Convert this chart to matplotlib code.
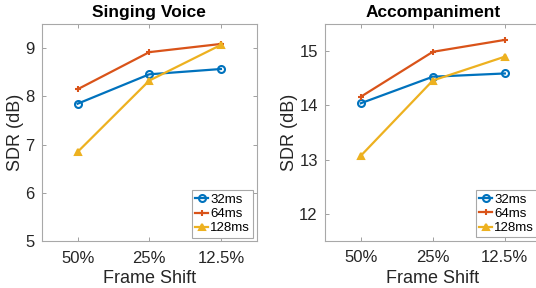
import numpy as np
import matplotlib.pyplot as plt

plt.rcParams['font.family'] = ['Liberation Sans', 'DejaVu Sans']

shifts = ['50%', '25%', '12.5%']
labels = ['32ms', '64ms', '128ms']
colors = ['#0072BD', '#D95319', '#EDB120']
markers = ['o', '+', '^']

voice_32 = [7.85, 8.46, 8.57]
voice_64 = [8.15, 8.92, 9.09]
voice_128 = [6.85, 8.33, 9.07]

acc_32 = [14.04, 14.53, 14.59]
acc_64 = [14.16, 14.99, 15.21]
acc_128 = [13.07, 14.46, 14.90]

fig = plt.figure(figsize=(5.36, 2.88), dpi=100)
ax1 = fig.add_axes([0.078, 0.163, 0.401, 0.753])
ax2 = fig.add_axes([0.606, 0.164, 0.403, 0.752])

x = np.arange(1, 4)


def draw(ax, series, title, ylim, yticks):
    for vals, lab, c, m in zip(series, labels, colors, markers):
        face = 'none' if m == 'o' else c
        ax.plot(x, vals, color=c, marker=m, markersize=5, markeredgewidth=1.5,
                markerfacecolor=face, linewidth=1.6, label=lab)
    ax.set_xlim(0.5, 3.5)
    ax.set_ylim(*ylim)
    ax.set_xticks(x)
    ax.set_xticklabels(shifts)
    ax.set_yticks(yticks)
    ax.tick_params(direction='in', top=True, right=True, labelsize=12,
                   labelcolor='#262626', color='#a0a0a0', length=3, width=0.7)
    ax.tick_params(axis='x', pad=7)
    ax.tick_params(axis='y', pad=5)
    for s in ax.spines.values():
        s.set_color('#a8a8a8')
        s.set_linewidth(0.8)
    ax.set_title(title, fontsize=12.5, fontweight='bold', pad=5)
    ax.set_xlabel('Frame Shift', fontsize=13, color='#262626', labelpad=3)
    ax.set_ylabel('SDR (dB)', fontsize=13, color='#262626', labelpad=1)
    leg = ax.legend(loc='lower right', fontsize=9.5, handlelength=1.0,
                    handletextpad=0.15, labelspacing=0.15, borderpad=0.25,
                    fancybox=False, framealpha=1, borderaxespad=0.25)
    leg.get_frame().set_edgecolor('#a8a8a8')
    leg.get_frame().set_linewidth(0.8)


draw(ax1, [voice_32, voice_64, voice_128], 'Singing Voice', (5, 9.5), [5, 6, 7, 8, 9])
draw(ax2, [acc_32, acc_64, acc_128], 'Accompaniment', (11.5, 15.5), [12, 13, 14, 15])

fig.savefig('out.png', dpi=100)
